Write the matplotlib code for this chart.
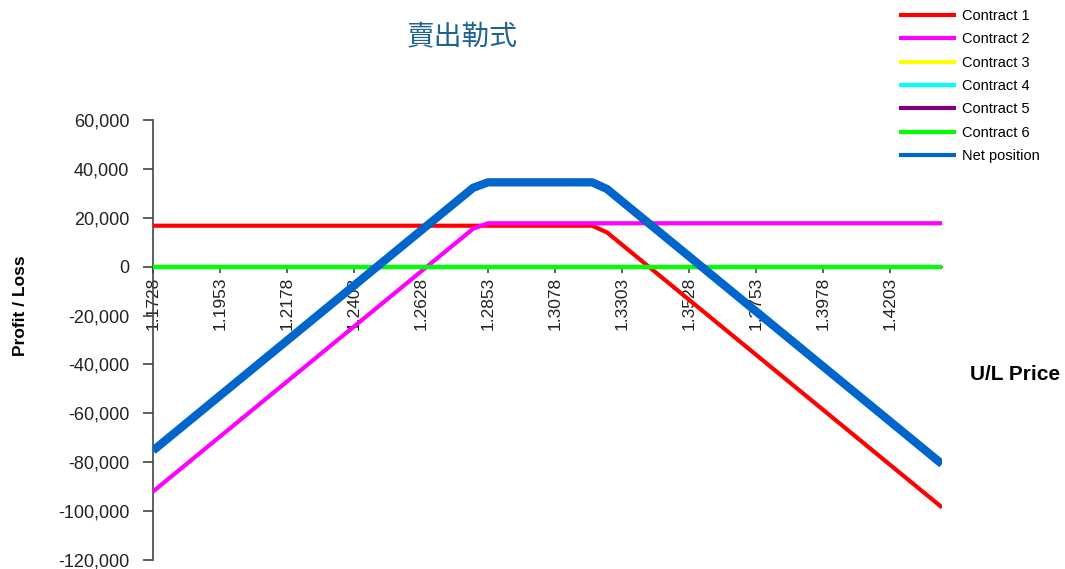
import matplotlib.pyplot as plt
from matplotlib.ticker import FuncFormatter

plt.rcParams['font.family'] = ['Liberation Sans', 'DejaVu Sans']

# underlying price points (kinks at strikes included)
prices = [1.1728, 1.1953, 1.2178, 1.2403, 1.2628, 1.2803, 1.2853, 1.3078,
          1.3203, 1.3253, 1.3303, 1.3528, 1.3753, 1.3978, 1.4203, 1.4378]

# profit / loss of each leg at those prices
contract1 = [16750, 16750, 16750, 16750, 16750, 16750, 16750, 16750,
             16750, 14000, 9000, -13500, -36000, -58500, -81000, -98500]
contract2 = [-92000, -69500, -47000, -24500, -2000, 15500, 17750, 17750,
             17750, 17750, 17750, 17750, 17750, 17750, 17750, 17750]
contract3 = [0] * len(prices)
contract4 = [0] * len(prices)
contract5 = [0] * len(prices)
contract6 = [0] * len(prices)
net_position = [-75250, -52750, -30250, -7750, 14750, 32250, 34500, 34500,
                34500, 31750, 26750, 4250, -18250, -40750, -63250, -80750]

tick_prices = [1.1728, 1.1953, 1.2178, 1.2403, 1.2628, 1.2853, 1.3078,
               1.3303, 1.3528, 1.3753, 1.3978, 1.4203]

fig = plt.figure(figsize=(10.65, 5.69), dpi=100)
ax = fig.add_axes([153 / 1065, 9 / 569, (942 - 153) / 1065, 440 / 569])

series = [
    ("Contract 1", contract1, "#FF0000", 3.0),
    ("Contract 2", contract2, "#FF00FF", 3.0),
    ("Contract 3", contract3, "#FFFF00", 3.0),
    ("Contract 4", contract4, "#00FFFF", 3.0),
    ("Contract 5", contract5, "#800080", 3.0),
    ("Contract 6", contract6, "#00FF00", 3.0),
    ("Net position", net_position, "#0066CC", 6.0),
]
for name, vals, col, lw in series:
    ax.plot(prices, vals, color=col, lw=lw, label=name,
            solid_capstyle='butt', zorder=3)

ax.set_xlim(prices[0], prices[-1])
ax.set_ylim(-120000, 60000)
ax.set_yticks(range(-120000, 60001, 20000))
ax.yaxis.set_major_formatter(FuncFormatter(lambda v, p: f"{int(v):,}"))
ax.set_xticks(tick_prices)
ax.set_xticklabels([f"{t:.4f}" for t in tick_prices])

ax.spines['top'].set_visible(False)
ax.spines['right'].set_visible(False)
ax.spines['bottom'].set_position(('data', 0))
for s in ('left', 'bottom'):
    ax.spines[s].set_color('#444444')
    ax.spines[s].set_linewidth(1.2)

ax.tick_params(axis='y', direction='out', length=7, width=1.2, color='#444444',
               labelsize=13, labelcolor='#222222', pad=10)
ax.tick_params(axis='x', direction='out', length=4, width=1.2, color='#444444',
               labelsize=12.5, labelcolor='#222222', pad=3, labelrotation=90)

fig.text(21 / 1065, 1 - 306 / 569, "Profit / Loss", rotation=90, fontsize=12.5,
         fontweight='bold', ha='center', va='center')
fig.text(1015 / 1065, 1 - 375 / 569, "U/L Price", fontsize=15,
         fontweight='bold', ha='center', va='center')
fig.text(462 / 1065, 1 - 37 / 569, "賣出勒式", fontsize=20, color='#1F6391',
         family=['Noto Sans CJK TC', 'DejaVu Sans'], ha='center', va='center')

leg = ax.legend(loc='upper left', bbox_to_anchor=(899 / 1065, 1 - 9 / 569),
                bbox_transform=fig.transFigure, frameon=False, fontsize=10.5,
                handlelength=3.9, handletextpad=0.45, labelspacing=0.64,
                borderpad=0, borderaxespad=0)
for h in leg.legend_handles:
    h.set_linewidth(3)

fig.savefig("out.png", dpi=100)
